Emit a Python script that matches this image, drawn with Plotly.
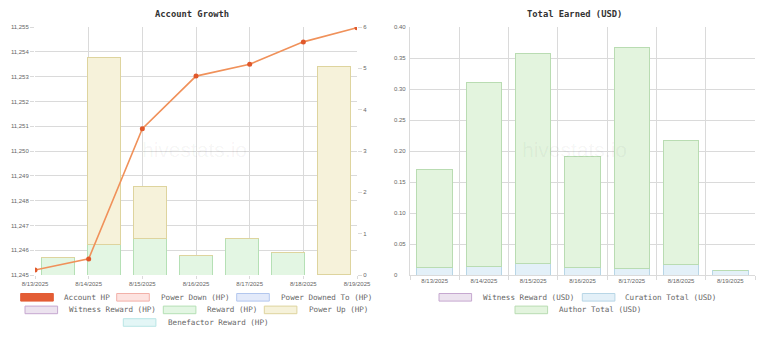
import plotly.graph_objects as go

W, H = 768, 339

# ---- data ----
dates = ["8/13/2025", "8/14/2025", "8/15/2025", "8/16/2025",
         "8/17/2025", "8/18/2025", "8/19/2025"]
account_hp = [11245.2, 11245.65, 11250.9, 11253.02, 11253.5, 11254.4, 11254.97]
reward_hp = [0.43, 0.745, 0.89, 0.47, 0.89, 0.55, 0.02]
power_up_hp = [0, 4.51, 1.25, 0, 0, 0, 5.02]
curation_usd = [0.0124, 0.0134, 0.0183, 0.0124, 0.0108, 0.0172, 0.0065]
author_usd = [0.157, 0.297, 0.339, 0.179, 0.356, 0.199, 0]
hp_ticks = [11245, 11246, 11247, 11248, 11249, 11250, 11251, 11252, 11253, 11254, 11255]
usd_ticks = [0, 0.05, 0.10, 0.15, 0.20, 0.25, 0.30, 0.35, 0.40]
usd_tick_text = ["0", "0.05", "0.10", "0.15", "0.20", "0.25", "0.30", "0.35", "0.40"]

# series colours (fill, border)
COL = {
    "Account HP": ("#e35d35", "#e35d35"),
    "Power Down (HP)": ("#fde3e0", "#f2b1a9"),
    "Power Downed To (HP)": ("#e3eafa", "#b3c7ee"),
    "Witness Reward (HP)": ("#ece3ef", "#c6a8d0"),
    "Reward (HP)": ("#e3f6e3", "#b5e0b5"),
    "Power Up (HP)": ("#f6f2da", "#ded49e"),
    "Benefactor Reward (HP)": ("#e3f6f6", "#b9e5e5"),
    "Witness Reward (USD)": ("#ece3ef", "#c6a8d0"),
    "Curation Total (USD)": ("#e3f0f8", "#b8d6e6"),
    "Author Total (USD)": ("#e3f4de", "#b9dcb2"),
}

GRID = "#dadada"
TICKFONT = dict(family="Liberation Sans, Arial, sans-serif", size=6, color="#666")
MONO = "DejaVu Sans Mono, monospace"


def px_x(x):
    return x / W


def px_y(y):
    return 1 - y / H


left_dom = [px_x(35), px_x(357)]
right_dom = [px_x(410), px_x(755)]
vert_dom = [px_y(275), px_y(27)]

fig = go.Figure()

# ---- Account Growth: stacked HP bars (right axis) ----
for name, vals in [("Reward (HP)", reward_hp), ("Power Up (HP)", power_up_hp)]:
    fill, line = COL[name]
    fig.add_trace(go.Bar(
        x=dates, y=vals, name=name, xaxis="x", yaxis="y",
        marker=dict(color=fill, line=dict(color=line, width=1)),
        showlegend=False, hoverinfo="skip"))

# Account HP line (left axis)
fig.add_trace(go.Scatter(
    x=dates, y=account_hp, name="Account HP", xaxis="x2", yaxis="y2",
    mode="lines+markers",
    line=dict(color="#f0915a", width=1.6),
    marker=dict(color="#e0582b", size=5),
    showlegend=False))

# ---- Total Earned: stacked USD bars ----
for name, vals in [("Curation Total (USD)", curation_usd), ("Author Total (USD)", author_usd)]:
    fill, line = COL[name]
    fig.add_trace(go.Bar(
        x=dates, y=vals, name=name, xaxis="x3", yaxis="y3",
        marker=dict(color=fill, line=dict(color=line, width=1)),
        showlegend=False))

fig.update_layout(
    width=W, height=H,
    margin=dict(l=0, r=0, t=0, b=0, autoexpand=False),
    paper_bgcolor="white", plot_bgcolor="white",
    barmode="stack", bargap=0.28,
    showlegend=False,
    # bars of the left chart sit between the date grid lines
    xaxis=dict(domain=left_dom, type="category", categoryarray=dates,
               range=[-0.5, 6.5], visible=False, anchor="y", automargin=False),
    yaxis=dict(domain=vert_dom, range=[0, 6], dtick=1, side="right", anchor="x",
               showgrid=False, zeroline=False, ticks="outside", ticklen=4,
               tickcolor=GRID, tickfont=TICKFONT, automargin=False),
    xaxis2=dict(overlaying="x", type="category", categoryarray=dates,
                range=[0, 6], anchor="y2", showgrid=True, gridcolor=GRID,
                ticks="outside", ticklen=3, tickcolor=GRID, tickfont=TICKFONT,
                zeroline=False, automargin=False),
    yaxis2=dict(overlaying="y", side="left", anchor="x2",
                range=[11245, 11255], tickvals=hp_ticks, tickformat=",d",
                showgrid=True, gridcolor=GRID, zeroline=False,
                ticks="outside", ticklen=4, tickcolor=GRID, tickfont=TICKFONT,
                automargin=False),
    xaxis3=dict(domain=right_dom, type="category", categoryarray=dates,
                range=[-0.5, 6.5], anchor="y3", tickson="boundaries",
                showgrid=True, gridcolor=GRID, ticks="outside", ticklen=4,
                tickcolor=GRID, tickfont=TICKFONT, showline=True, linecolor=GRID,
                zeroline=False, automargin=False),
    yaxis3=dict(domain=vert_dom, range=[0, 0.4], tickvals=usd_ticks,
                anchor="x3", showticklabels=False, showgrid=True, gridcolor=GRID,
                zeroline=False, showline=True, linecolor=GRID, automargin=False),
)

annotations = []
shapes = []

# titles
annotations.append(dict(text="<b>Account Growth</b>", x=px_x(192), y=px_y(14),
                        xref="paper", yref="paper", xanchor="center",
                        yanchor="middle", showarrow=False,
                        font=dict(family=MONO, size=8.8, color="#333")))
annotations.append(dict(text="<b>Total Earned (USD)</b>", x=px_x(574), y=px_y(14),
                        xref="paper", yref="paper", xanchor="center",
                        yanchor="middle", showarrow=False,
                        font=dict(family=MONO, size=8.8, color="#333")))

# watermarks
for cx in (194, 574):
    annotations.append(dict(text="hivestats.io", x=px_x(cx), y=px_y(149),
                            xref="paper", yref="paper", xanchor="center",
                            yanchor="middle", showarrow=False,
                            font=dict(family="Liberation Sans, Arial, sans-serif",
                                      size=21, color="rgba(0,0,0,0.05)")))

# left-aligned USD tick labels
for v, t in zip(usd_ticks, usd_tick_text):
    annotations.append(dict(text=t, x=px_x(392), y=v, xref="paper", yref="y3",
                            xanchor="left", yanchor="middle", showarrow=False,
                            font=TICKFONT))

# legends: (name, box x-left, row y-centre, text x-left)
legend_items = [
    ("Account HP", 20.7, 297.3, 62),
    ("Power Down (HP)", 116.7, 297.3, 158.7),
    ("Power Downed To (HP)", 236.7, 297.3, 278.7),
    ("Witness Reward (HP)", 25, 309.9, 66.7),
    ("Reward (HP)", 163.3, 309.9, 205),
    ("Power Up (HP)", 264.3, 309.9, 306.7),
    ("Benefactor Reward (HP)", 123.3, 322.5, 165.7),
    ("Witness Reward (USD)", 439, 297.3, 480.7),
    ("Curation Total (USD)", 582.3, 297.3, 623.3),
    ("Author Total (USD)", 515, 309.9, 556.7),
]
for name, bx, cy, tx in legend_items:
    fill, line = COL[name]
    shapes.append(dict(type="rect", xref="paper", yref="paper",
                       x0=px_x(bx), x1=px_x(bx + 32.6),
                       y0=px_y(cy + 3.8), y1=px_y(cy - 3.8),
                       fillcolor=fill, line=dict(color=line, width=1)))
    annotations.append(dict(text=name, x=px_x(tx), y=px_y(cy), xref="paper",
                            yref="paper", xanchor="left", yanchor="middle",
                            showarrow=False,
                            font=dict(family=MONO, size=7.6, color="#666")))

fig.update_layout(annotations=annotations, shapes=shapes)

fig.write_html("out.html")
